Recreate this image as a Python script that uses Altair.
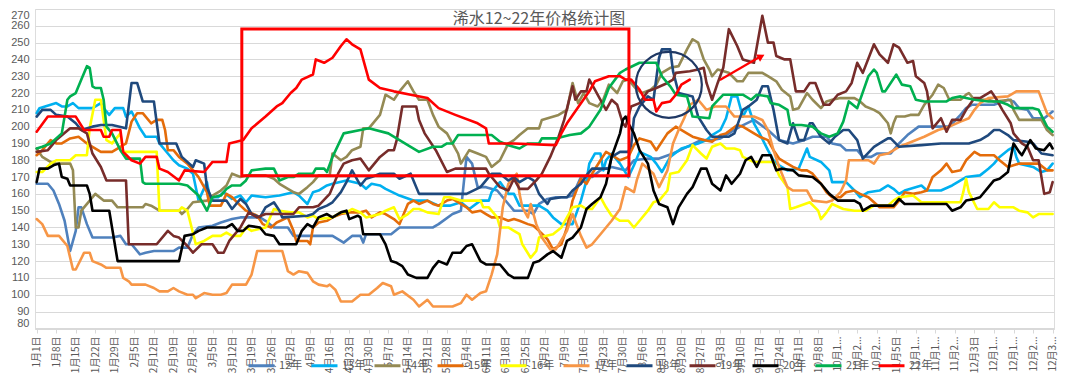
import altair as alt
import pandas as pd

# ---------------- data (day-of-year, price) ----------------
series_names = ["12年", "13年", "14年", "15年", "16年", "17年", "18年", "19年", "20年", "21年", "22年"]
series_colors = ["#4F81BD", "#00B0F0", "#948A54", "#E46C0A", "#FFFF00", "#F79646",
                 "#1F497D", "#772C2A", "#000000", "#00B050", "#FF0000"]

s12 = [(1,166),(5,166),(7,162),(9,154),(11,144),(13,126),(15,138),(16,152),(17,152),(19,142),(21,134),(28,134),(31,135),(33,130),(35,130),(38,124),(40,125),(43,126),(50,126),(52,128),(55,128),(57,136),(59,140),(64,141),(67,143),(71,145),(74,146),(81,146),(83,144),(86,140),(91,140),(93,135),(107,135),(111,131),(114,135),(117,135),(118,131),(119,136),(128,136),(131,140),(143,140),(145,142),(150,148),(153,150),(155,182),(157,178),(159,164),(162,164),(166,162),(170,154),(172,150),(177,150),(179,148),(181,154),(184,157),(187,158),(191,158),(193,159),(196,170),(200,170),(203,174),(207,176),(212,174),(215,180),(220,181),(224,181),(229,184),(234,188),(239,192),(243,192),(246,193),(253,200),(258,204),(263,198),(267,192),(272,190),(276,192),(279,194),(284,194),(286,190),(289,189),(291,186),(295,186),(297,182),(300,182),(302,184),(307,184),(310,190),(313,195),(317,200),(328,200),(332,207),(334,211),(336,213),(344,213),(349,216),(351,215),(353,211),(356,210),(358,205),(362,205),(365,209)]
s13 = [(1,208),(2,211),(6,213),(8,214),(10,212),(12,212),(14,214),(16,211),(21,211),(24,214),(25,211),(27,207),(29,211),(32,211),(33,206),(35,209),(38,199),(40,194),(44,194),(45,190),(48,184),(50,180),(52,177),(55,175),(57,172),(58,164),(59,156),(62,167),(63,158),(66,158),(68,161),(71,157),(74,159),(76,155),(78,159),(83,158),(88,159),(93,161),(95,159),(98,154),(100,161),(102,162),(105,165),(107,166),(112,168),(117,166),(119,163),(121,166),(124,165),(126,163),(131,159),(136,156),(141,156),(145,153),(149,153),(153,155),(156,151),(160,156),(163,156),(164,161),(167,167),(170,160),(172,160),(174,153),(181,153),(184,150),(186,146),(189,142),(193,142),(196,156),(198,168),(199,178),(201,184),(203,184),(204,174),(205,180),(207,184),(210,178),(213,170),(215,177),(217,185),(221,182),(223,178),(225,173),(228,182),(232,187),(238,190),(241,192),(243,195),(246,198),(248,205),(250,218),(252,218),(254,206),(256,212),(258,202),(260,196),(263,186),(265,180),(267,177),(270,174),(274,175),(277,187),(278,182),(282,179),(285,174),(286,167),(291,167),(294,162),(296,158),(299,161),(303,162),(306,165),(308,163),(310,160),(312,162),(318,165),(320,162),(325,162),(329,165),(334,170),(339,171),(342,175),(344,178),(346,182),(349,186),(351,188),(352,182),(353,178),(358,176),(361,173),(363,174),(365,178)]
s14 = [(1,187),(3,182),(7,178),(13,178),(14,174),(15,140),(16,140),(17,150),(20,156),(22,160),(25,156),(28,156),(30,152),(39,152),(40,154),(42,153),(45,150),(52,150),(53,148),(55,151),(57,155),(62,156),(64,159),(67,162),(69,165),(71,172),(74,170),(76,171),(83,171),(86,169),(88,166),(91,163),(93,161),(95,160),(98,164),(100,167),(102,171),(106,171),(107,184),(110,180),(112,182),(114,186),(117,188),(118,199),(120,199),(124,207),(126,219),(129,216),(131,221),(134,227),(136,221),(138,216),(141,216),(143,207),(145,200),(148,196),(152,184),(153,178),(156,186),(159,184),(162,182),(164,176),(167,180),(170,190),(172,192),(174,195),(177,199),(181,199),(182,204),(188,207),(191,210),(193,226),(195,214),(197,220),(199,214),(202,212),(204,216),(206,225),(209,220),(211,227),(213,228),(216,222),(218,220),(221,222),(223,225),(225,232),(228,235),(231,236),(234,246),(236,252),(238,250),(240,240),(242,234),(243,230),(245,234),(249,232),(252,227),(254,227),(256,232),(261,232),(263,230),(266,227),(268,222),(271,218),(272,210),(274,211),(277,220),(279,216),(282,211),(284,215),(286,216),(289,217),(294,217),(296,215),(298,212),(301,210),(303,208),(306,202),(307,196),(308,202),(309,206),(312,206),(314,207),(317,207),(319,213),(320,215),(322,219),(324,225),(326,223),(328,216),(332,216),(334,219),(335,220),(337,216),(342,216),(344,215),(350,216),(351,210),(353,204),(361,204),(363,198),(365,195)]
s15 = [(1,183),(3,186),(6,192),(8,190),(10,190),(13,193),(16,194),(19,190),(21,188),(24,185),(28,185),(31,188),(33,190),(35,203),(37,208),(39,208),(42,202),(44,204),(46,204),(47,198),(48,186),(50,186),(52,182),(55,178),(57,174),(59,170),(62,161),(63,153),(67,153),(69,160),(71,158),(74,153),(76,150),(80,147),(82,142),(85,140),(87,143),(91,146),(93,138),(94,132),(98,132),(99,130),(100,140),(102,143),(105,144),(107,146),(110,148),(113,149),(117,149),(119,150),(121,146),(124,149),(126,148),(129,145),(131,142),(134,154),(136,156),(138,154),(141,156),(143,154),(145,153),(148,156),(150,157),(153,154),(155,152),(157,149),(160,150),(162,148),(164,146),(167,146),(170,144),(172,145),(174,144),(177,142),(179,141),(181,138),(184,133),(186,127),(189,130),(191,140),(193,156),(196,169),(198,166),(200,172),(203,180),(205,185),(207,183),(210,180),(213,182),(215,189),(217,193),(221,191),(223,186),(227,196),(230,200),(234,196),(236,194),(240,192),(243,191),(246,195),(248,196),(252,201),(254,200),(258,196),(260,194),(263,192),(265,186),(267,181),(270,178),(272,176),(275,174),(277,174),(279,172),(282,166),(284,161),(286,158),(289,158),(291,161),(294,162),(296,160),(299,158),(301,155),(303,152),(308,152),(310,156),(312,161),(315,160),(318,161),(320,162),(322,170),(325,174),(327,178),(329,173),(332,174),(334,180),(337,185),(339,183),(344,183),(346,180),(349,176),(351,177),(353,178),(360,178),(363,174),(365,174)]
s16 = [(1,173),(3,173),(6,178),(8,180),(13,180),(15,183),(19,183),(20,199),(22,216),(24,216),(25,204),(26,192),(28,190),(31,196),(32,185),(44,185),(45,150),(52,150),(53,152),(55,150),(58,130),(61,132),(64,135),(67,135),(69,137),(71,135),(74,135),(76,140),(78,138),(83,140),(86,151),(88,150),(92,149),(95,149),(98,146),(100,147),(102,145),(107,146),(110,149),(112,149),(114,151),(117,149),(119,146),(124,148),(126,150),(129,152),(131,145),(134,148),(136,151),(138,151),(141,149),(145,148),(147,158),(149,158),(153,156),(160,156),(161,152),(163,152),(166,146),(167,140),(170,140),(172,138),(174,136),(175,130),(178,122),(180,126),(181,134),(186,136),(189,140),(191,146),(193,152),(196,153),(198,151),(200,151),(203,158),(205,152),(207,147),(210,144),(213,144),(215,140),(217,144),(220,150),(222,155),(224,156),(227,162),(228,172),(231,173),(234,180),(236,189),(239,184),(241,181),(243,188),(246,190),(248,187),(251,187),(253,186),(254,182),(258,179),(265,179),(267,171),(270,164),(271,151),(273,152),(278,155),(281,150),(282,145),(284,149),(286,154),(290,151),(294,150),(298,150),(301,153),(306,153),(308,156),(310,158),(315,159),(318,155),(332,155),(333,161),(334,169),(335,161),(338,151),(342,151),(344,155),(346,152),(351,152),(353,150),(356,149),(358,146),(360,148),(365,148)]
s17 = [(1,145),(3,142),(5,135),(9,135),(12,129),(13,122),(14,115),(15,115),(18,125),(20,125),(21,120),(24,118),(26,116),(31,116),(32,110),(34,108),(35,106),(40,106),(43,104),(45,102),(48,102),(50,104),(52,102),(55,100),(57,100),(58,98),(61,101),(64,100),(67,100),(69,101),(71,106),(76,106),(78,112),(80,126),(89,126),(91,114),(93,112),(95,114),(98,113),(100,108),(102,106),(105,105),(106,106),(108,103),(110,96),(114,96),(117,100),(120,100),(123,104),(125,107),(128,105),(129,100),(132,102),(136,97),(138,93),(141,97),(143,93),(150,93),(153,95),(155,100),(157,97),(160,101),(162,102),(164,112),(166,124),(167,138),(168,152),(170,166),(173,172),(174,160),(175,152),(177,146),(178,154),(180,142),(182,134),(185,127),(187,127),(191,138),(193,148),(196,135),(198,128),(200,130),(203,136),(205,140),(207,144),(210,151),(212,164),(215,161),(216,168),(218,178),(222,172),(224,164),(227,174),(229,190),(231,198),(233,205),(235,213),(238,216),(241,210),(244,212),(248,212),(251,206),(258,206),(261,204),(263,198),(265,186),(267,176),(270,164),(272,162),(277,162),(279,156),(284,155),(286,156),(289,161),(291,168),(292,180),(296,180),(299,180),(301,178),(303,183),(306,184),(310,188),(313,190),(319,194),(324,198),(328,200),(332,203),(335,205),(337,210),(339,214),(342,217),(349,218),(351,220),(352,221),(360,221),(363,208),(365,205)]
s18 = [(1,206),(3,210),(6,210),(8,207),(12,206),(15,202),(17,198),(21,200),(24,201),(28,201),(33,199),(35,226),(37,226),(39,215),(43,215),(45,190),(51,190),(53,182),(57,176),(58,180),(61,178),(62,164),(64,156),(69,156),(71,151),(74,157),(76,154),(78,148),(81,146),(83,152),(86,155),(88,150),(89,146),(98,147),(100,148),(102,151),(105,153),(107,155),(110,161),(112,167),(114,174),(117,165),(119,169),(121,170),(124,172),(129,172),(131,169),(135,172),(138,160),(155,160),(160,164),(162,168),(164,172),(167,172),(170,168),(172,170),(174,167),(177,170),(179,168),(181,160),(184,154),(185,157),(189,158),(191,158),(193,162),(196,166),(198,171),(200,175),(206,175),(207,182),(210,185),(213,185),(214,189),(215,205),(217,212),(220,218),(222,216),(224,241),(225,246),(228,246),(229,233),(231,220),(236,218),(238,206),(241,198),(243,194),(249,194),(251,196),(254,210),(256,212),(259,216),(261,224),(263,224),(265,210),(267,192),(270,190),(272,202),(274,192),(276,192),(278,202),(279,202),(282,194),(285,190),(287,194),(290,198),(292,198),(295,192),(297,181),(301,188),(303,190),(306,193),(307,193),(310,188),(318,189),(325,190),(335,190),(339,192),(342,195),(344,198),(346,198),(349,195),(351,192),(356,191),(358,190),(361,184),(365,183)]
s19 = [(1,185),(5,186),(8,192),(13,199),(16,199),(19,196),(21,184),(24,176),(26,168),(33,168),(34,130),(44,130),(48,138),(50,135),(52,134),(55,129),(57,125),(60,130),(64,130),(66,125),(68,125),(70,132),(74,140),(77,149),(80,146),(83,148),(93,148),(95,152),(100,152),(102,153),(106,160),(109,172),(111,178),(114,180),(117,181),(120,174),(124,182),(127,186),(129,186),(130,192),(132,212),(137,212),(138,204),(140,196),(144,186),(148,173),(151,175),(162,175),(163,172),(167,164),(170,162),(172,169),(174,163),(177,163),(180,168),(182,172),(185,182),(188,194),(190,204),(193,224),(194,216),(196,221),(198,221),(199,228),(201,222),(203,216),(205,210),(207,216),(209,213),(211,202),(212,200),(214,212),(217,214),(220,221),(223,223),(227,226),(229,228),(230,232),(235,233),(238,234),(240,235),(241,226),(243,216),(245,226),(247,235),(249,258),(252,248),(254,240),(258,238),(261,266),(263,250),(265,250),(266,242),(269,240),(271,240),(273,221),(276,221),(278,226),(280,226),(283,213),(285,213),(288,219),(291,221),(293,226),(295,238),(297,232),(301,249),(303,243),(306,238),(308,249),(310,247),(313,238),(315,239),(316,230),(319,226),(320,221),(321,210),(322,199),(325,205),(327,197),(329,204),(332,204),(334,210),(337,217),(339,217),(342,220),(343,221),(345,216),(347,210),(350,202),(351,196),(354,190),(356,188),(358,180),(360,180),(362,160),(364,161),(365,167)]
s20 = [(1,167),(2,175),(5,175),(7,177),(9,178),(10,170),(12,169),(13,165),(19,165),(20,160),(21,150),(27,150),(30,120),(52,120),(54,135),(57,136),(59,138),(62,140),(69,140),(71,142),(73,138),(75,138),(77,141),(81,140),(83,136),(86,135),(88,130),(94,130),(96,138),(98,142),(100,140),(102,146),(105,148),(107,146),(110,149),(112,150),(113,145),(116,147),(117,146),(118,136),(124,136),(126,130),(128,120),(130,119),(132,117),(134,112),(137,110),(141,110),(143,116),(145,120),(148,118),(150,125),(153,125),(155,129),(157,130),(160,120),(162,118),(167,118),(170,112),(172,110),(177,110),(179,119),(181,120),(184,124),(186,126),(189,122),(191,132),(193,134),(196,140),(198,151),(200,154),(203,158),(205,166),(207,182),(210,196),(211,204),(212,206),(213,202),(215,196),(217,186),(220,178),(222,162),(224,154),(227,152),(229,142),(231,152),(234,160),(236,164),(239,175),(241,175),(243,166),(246,162),(248,171),(250,166),(253,172),(255,180),(257,182),(259,176),(261,183),(264,183),(266,174),(268,175),(272,174),(274,171),(279,170),(282,166),(285,160),(288,156),(294,156),(296,154),(297,150),(300,153),(308,153),(310,157),(312,154),(327,154),(329,150),(332,152),(334,156),(337,157),(339,158),(342,164),(344,168),(346,169),(349,173),(351,190),(353,185),(354,183),(357,192),(359,187),(362,186),(364,190),(365,187)]
s21 = [(1,187),(3,188),(6,190),(10,196),(12,216),(13,218),(15,220),(17,228),(19,236),(20,235),(21,224),(22,223),(24,223),(25,216),(26,200),(28,196),(31,186),(33,181),(38,181),(39,167),(40,166),(52,166),(55,165),(59,159),(62,150),(64,158),(67,159),(69,163),(71,165),(74,165),(76,168),(78,174),(83,175),(86,175),(88,168),(91,170),(93,170),(95,172),(100,172),(101,175),(104,175),(105,173),(107,182),(111,196),(117,198),(120,199),(127,196),(135,188),(138,185),(143,188),(146,188),(148,190),(150,190),(152,195),(164,195),(167,191),(170,189),(174,187),(177,190),(181,190),(182,193),(187,193),(192,195),(196,196),(199,200),(203,210),(206,223),(210,232),(212,234),(217,238),(223,238),(225,230),(228,224),(230,219),(234,218),(236,206),(242,205),(243,212),(247,219),(254,219),(257,216),(259,219),(263,218),(264,214),(267,213),(270,210),(271,201),(275,201),(279,200),(282,196),(285,194),(288,196),(290,203),(292,215),(295,211),(299,230),(301,234),(302,232),(304,221),(305,221),(309,231),(311,225),(314,224),(316,216),(319,215),(327,215),(329,217),(332,218),(334,217),(337,216),(342,215),(346,215),(349,213),(351,211),(358,211),(360,210),(363,200),(365,197)]
s22 = [(1,197),(5,206),(15,206),(18,198),(24,198),(25,194),(27,194),(28,198),(31,198),(32,185),(35,180),(38,178),(40,182),(44,182),(45,175),(48,173),(52,168),(54,174),(61,173),(64,179),(69,179),(70,190),(75,192),(78,199),(83,206),(87,212),(89,214),(92,220),(94,223),(96,228),(100,231),(101,240),(104,238),(107,241),(110,248),(112,252),(114,249),(117,246),(120,228),(124,223),(129,221),(135,219),(141,217),(145,211),(151,207),(159,202),(162,199),(163,190),(172,190),(187,189),(189,196),(191,202),(199,221),(201,227),(206,230),(210,230),(212,228),(214,228),(217,222),(219,216),(222,216),(223,209),(225,214),(228,215),(230,219),(232,225),(235,228)]
all_series = [s12, s13, s14, s15, s16, s17, s18, s19, s20, s21, s22]

tick_days = list(range(1, 366, 7))
tick_labels = ["1月1日", "1月8日", "1月15日", "1月22日", "1月29日", "2月5日", "2月12日", "2月19日",
               "2月26日", "3月5日", "3月12日", "3月19日", "3月26日", "4月2日", "4月9日", "4月16日",
               "4月23日", "4月30日", "5月7日", "5月14日", "5月21日", "5月28日", "6月4日", "6月11日",
               "6月18日", "6月25日", "7月2日", "7月9日", "7月16日", "7月23日", "7月30日", "8月6日",
               "8月13日", "8月20日", "8月27日", "9月3日", "9月10日", "9月17日", "9月24日", "10月1日",
               "10月8日", "10月1...", "10月2...", "10月2...", "11月5日", "11月1...", "11月1...",
               "11月2...", "12月3日", "12月1...", "12月1...", "12月2...", "12月3..."]
y_ticks = list(range(80, 271, 10))

title_text = "浠水12~22年价格统计图"

# annotations (in data units)
box_day = [74.5]
box_day2 = [213.2]
box_val = [170.8]
box_val2 = [258.1]
circle_day = [227.5]
circle_val = [224.9]
arrow_day = [245.8, 260.0]
arrow_val = [227.8, 241.4]
arrow_head_day = [260.6]
arrow_head_val = [241.8]

rows = []
for name, pts in zip(series_names, all_series):
    for d, v in pts:
        rows.append({"day": d, "value": v, "series": name})
df = pd.DataFrame(rows)

GRAY = "#595959"
GRID = "#D9D9D9"
label_expr = "[" + ",".join("'%s'" % t for t in tick_labels) + "][round((datum.value-1)/7)]"

x_axis = alt.Axis(values=tick_days, labelExpr=label_expr, labelAngle=270,
                  labelFlush=False, labelOverlap=False, labelBound=False,
                  grid=False, domain=True, domainColor=GRID, ticks=True,
                  tickColor=GRID, tickSize=4, labelPadding=3, labelFontSize=10,
                  labelColor=GRAY, labelFont="Noto Sans CJK SC", title=None,
                  labelLimit=200)
y_axis = alt.Axis(values=y_ticks, grid=True, gridColor=GRID, domain=False,
                  ticks=False, labelPadding=6, labelFontSize=11, labelColor=GRAY,
                  labelFont="Liberation Sans", title=None, labelOverlap=False,
                  labelFlush=1)
x_scale = alt.Scale(domain=[0.4, 365.5], nice=False, zero=False)
y_scale = alt.Scale(domain=[79.6, 270], nice=False, zero=False)


def xe():
    return alt.X("day:Q", scale=x_scale, axis=x_axis)


def ye():
    return alt.Y("value:Q", scale=y_scale, axis=y_axis)


lines = alt.Chart(df).mark_line(strokeWidth=2.6, strokeJoin="round", strokeCap="round").encode(
    x=xe(), y=ye(),
    color=alt.Color("series:N", sort=series_names,
                    scale=alt.Scale(domain=series_names, range=series_colors),
                    legend=alt.Legend(orient="none", legendX=212, legendY=342,
                                      direction="horizontal", columns=11, title=None,
                                      symbolType="stroke", symbolStrokeWidth=3,
                                      symbolSize=676, labelFontSize=11, labelColor=GRAY,
                                      labelFont="Noto Sans CJK SC", labelOffset=3,
                                      columnPadding=2, padding=0)),
    detail="series:N",
)

box = alt.Chart(pd.DataFrame({"day": box_day, "day2": box_day2, "value": box_val,
                              "value2": box_val2})).mark_rect(
    fillOpacity=0, stroke="#FF0000", strokeWidth=3).encode(
    x=xe(), x2="day2:Q", y=ye(), y2="value2:Q")

circle = alt.Chart(pd.DataFrame({"day": circle_day, "value": circle_val})).mark_point(
    shape="circle", filled=False, stroke="#1F3864", strokeWidth=2.2, size=4356, opacity=1).encode(
    x=xe(), y=ye())

arrow = alt.Chart(pd.DataFrame({"day": arrow_day, "value": arrow_val})).mark_line(
    color="#FF0000", strokeWidth=2.2).encode(x=xe(), y=ye())

head = alt.Chart(pd.DataFrame({"day": arrow_head_day, "value": arrow_head_val})).mark_point(
    shape="triangle-up", filled=True, color="#FF0000", size=70, angle=61, opacity=1).encode(
    x=xe(), y=ye())

title = alt.Chart(pd.DataFrame({"t": [title_text]})).mark_text(
    fontSize=16, font="Noto Sans CJK SC", color=GRAY, baseline="middle", align="center").encode(
    text="t:N", x=alt.value(504), y=alt.value(10))

chart = alt.layer(lines, box, circle, arrow, head, title).properties(
    width=1019, height=320,
    autosize=alt.AutoSizeParams(type="none"),
    padding={"left": 27, "top": 1, "right": 18, "bottom": 44},
).configure_view(stroke=None).configure(background="white")

chart.save("out.html", embed_options={"renderer": "svg", "actions": False})
